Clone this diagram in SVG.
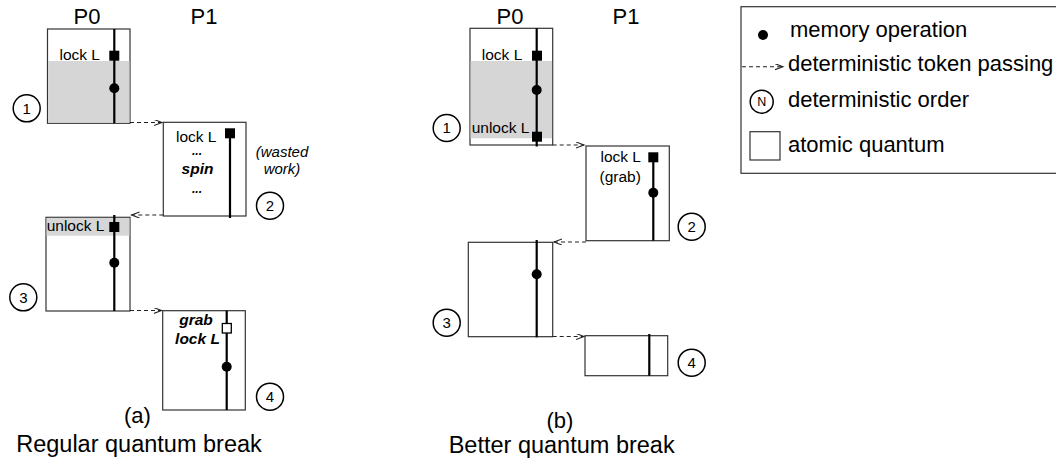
<svg xmlns="http://www.w3.org/2000/svg" width="1056" height="464" viewBox="0 0 1056 464">
<style>
text{font-family:"Liberation Sans",Arial,Helvetica,sans-serif;fill:#000}
.box{fill:#fff;stroke:#333;stroke-width:1.2}
.shade{fill:#d6d6d6}
.life{stroke:#000;stroke-width:2.2}
.dot{fill:#000}
.sq{fill:#000}
.osq{fill:#fff;stroke:#000;stroke-width:1.3}
.ord{fill:#fff;stroke:#000;stroke-width:1.5}
.num{font-size:15px;text-anchor:middle}
.lbl{font-size:15.5px}
.bi{font-size:15.5px;font-weight:bold;font-style:italic}
.ell{font-size:12px;font-weight:bold;font-style:italic;text-anchor:middle}
.hdr{font-size:22px;text-anchor:middle}
.cap{font-size:23.5px;text-anchor:middle}
.leg{font-size:22px}
.tok{fill:none;stroke:#222;stroke-width:1.1;stroke-dasharray:4 3}
</style>
<defs>
<marker id="ah" markerUnits="userSpaceOnUse" markerWidth="10" markerHeight="8" refX="8" refY="3" orient="auto">
<path d="M0,0 L8,3 L0,6" fill="none" stroke="#222" stroke-width="1.1"/>
</marker>
</defs>

<!-- headers -->
<text class="hdr" x="87" y="23.5">P0</text>
<text class="hdr" x="204" y="23.5">P1</text>
<text class="hdr" x="510" y="23.5">P0</text>
<text class="hdr" x="626" y="23.5">P1</text>

<!-- (a) -->
<g id="a-q1">
<rect class="box" x="47.5" y="29" width="82.5" height="94.3"/>
<rect class="shade" x="48.1" y="61" width="81.3" height="61.7"/>
<line class="life" x1="114.3" y1="29" x2="114.3" y2="123.3"/>
<rect class="sq" x="109.3" y="50.7" width="10" height="10"/>
<circle class="dot" cx="114.3" cy="88.3" r="5"/>
<text class="lbl" x="100" y="59.5" text-anchor="end">lock L</text>
<circle class="ord" cx="26.7" cy="108.3" r="13.5"/>
<text class="num" x="26.7" y="113.5">1</text>
</g>

<g id="a-q2">
<rect class="box" x="163.3" y="122.3" width="82.7" height="93.7"/>
<line class="life" x1="230" y1="130" x2="230" y2="218"/>
<rect class="sq" x="225" y="128.3" width="10" height="10"/>
<text class="lbl" x="176" y="142">lock L</text>
<text class="ell" x="197" y="155">...</text>
<text class="bi" x="197.5" y="173.5" text-anchor="middle">spin</text>
<text class="ell" x="197" y="192.5">...</text>
<text x="282" y="156.5" font-size="15" font-style="italic" text-anchor="middle">(wasted</text>
<text x="282" y="174" font-size="15" font-style="italic" text-anchor="middle">work)</text>
<circle class="ord" cx="270" cy="205.7" r="13.5"/>
<text class="num" x="270" y="211">2</text>
</g>

<g id="a-q3">
<rect class="box" x="46" y="217.3" width="84" height="93.7"/>
<rect class="shade" x="46.6" y="217.9" width="82.8" height="17.8"/>
<line class="life" x1="114.3" y1="215" x2="114.3" y2="311"/>
<rect class="sq" x="109.3" y="222" width="10" height="10"/>
<circle class="dot" cx="114.3" cy="262.7" r="5"/>
<text class="lbl" x="46.7" y="230.7">unlock L</text>
<circle class="ord" cx="23.3" cy="297.3" r="13.5"/>
<text class="num" x="23.3" y="302.5">3</text>
</g>

<g id="a-q4">
<rect class="box" x="162.7" y="310.7" width="82.6" height="99.3"/>
<line class="life" x1="226.7" y1="310.7" x2="226.7" y2="410"/>
<rect class="osq" x="222.3" y="323.5" width="9" height="9.5"/>
<circle class="dot" cx="226.7" cy="366.7" r="5"/>
<text class="bi" x="196" y="325" text-anchor="middle">grab</text>
<text class="bi" x="197.5" y="343.5" text-anchor="middle">lock L</text>
<circle class="ord" cx="270" cy="396.7" r="13.5"/>
<text class="num" x="270" y="402">4</text>
</g>

<!-- (b) -->
<g id="b-q1">
<rect class="box" x="470" y="28.3" width="82.7" height="116.7"/>
<rect class="shade" x="470.6" y="61" width="81.5" height="77.3"/>
<line class="life" x1="536.7" y1="28.3" x2="536.7" y2="146.5"/>
<rect class="sq" x="532" y="50.7" width="10" height="10"/>
<circle class="dot" cx="536.7" cy="90" r="5"/>
<rect class="sq" x="532" y="131.7" width="10" height="10"/>
<text class="lbl" x="522.3" y="59.5" text-anchor="end">lock L</text>
<text class="lbl" x="471.7" y="132.5">unlock L</text>
<circle class="ord" cx="446.7" cy="128" r="13.5"/>
<text class="num" x="446.7" y="133.2">1</text>
</g>

<g id="b-q2">
<rect class="box" x="586" y="146" width="83.3" height="94.7"/>
<line class="life" x1="653.3" y1="158" x2="653.3" y2="240.7"/>
<rect class="sq" x="648.3" y="152.3" width="10" height="10"/>
<circle class="dot" cx="653.3" cy="192.7" r="5"/>
<text class="lbl" x="600.5" y="161.7">lock L</text>
<text class="lbl" x="599.5" y="181.5">(grab)</text>
<circle class="ord" cx="691.7" cy="226.7" r="13.5"/>
<text class="num" x="691.7" y="232">2</text>
</g>

<g id="b-q3">
<rect class="box" x="468.3" y="242.3" width="84.4" height="94.4"/>
<line class="life" x1="536.7" y1="240" x2="536.7" y2="337.3"/>
<circle class="dot" cx="536.7" cy="274.3" r="5"/>
<circle class="ord" cx="446.7" cy="322.7" r="13.5"/>
<text class="num" x="446.7" y="328">3</text>
</g>

<g id="b-q4">
<rect class="box" x="585" y="335.7" width="82.7" height="40"/>
<line class="life" x1="649.3" y1="334" x2="649.3" y2="375.7"/>
<circle class="ord" cx="691.7" cy="362.7" r="13.5"/>
<text class="num" x="691.7" y="368">4</text>
</g>

<!-- connectors -->
<g id="connectors">
<line class="tok" x1="130" y1="122.5" x2="162" y2="122.5" marker-end="url(#ah)"/>
<line class="tok" x1="163.3" y1="215" x2="131.5" y2="215" marker-end="url(#ah)"/>
<line class="tok" x1="130" y1="310.5" x2="161.5" y2="310.5" marker-end="url(#ah)"/>
<line class="tok" x1="552.7" y1="145" x2="584" y2="145" marker-end="url(#ah)"/>
<line class="tok" x1="586" y1="242" x2="554" y2="242" marker-end="url(#ah)"/>
<line class="tok" x1="552.7" y1="336.5" x2="584" y2="336.5" marker-end="url(#ah)"/>
</g>

<!-- captions -->
<text class="hdr" x="137.5" y="423">(a)</text>
<text class="cap" x="139" y="451.7">Regular quantum break</text>
<text class="hdr" x="560" y="428.3">(b)</text>
<text class="cap" x="561.7" y="453.3">Better quantum break</text>

<!-- legend -->
<g id="legend">
<rect x="741" y="6.7" width="330" height="166.6" fill="#fff" stroke="#333" stroke-width="1.2"/>
<circle class="dot" cx="763" cy="35" r="5"/>
<text class="leg" x="790" y="37.3">memory operation</text>
<line class="tok" x1="742" y1="66.7" x2="783" y2="66.7" marker-end="url(#ah)"/>
<text class="leg" x="788" y="71.2">deterministic token passing</text>
<circle class="ord" cx="761.7" cy="101.7" r="11.5"/>
<text x="761.7" y="106" font-size="12.5" text-anchor="middle">N</text>
<text class="leg" x="788" y="106.7">deterministic order</text>
<rect x="750" y="131.7" width="30" height="28.3" fill="#fff" stroke="#333" stroke-width="1.2"/>
<text class="leg" x="788" y="151.7">atomic quantum</text>
</g>
</svg>
